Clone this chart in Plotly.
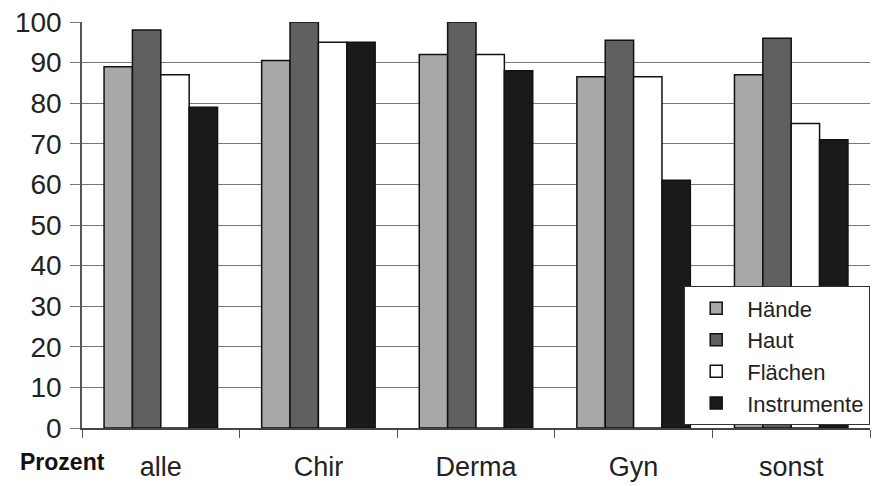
import plotly.graph_objects as go

categories = ["alle", "Chir", "Derma", "Gyn", "sonst"]
haende = [89, 90.5, 92, 86.5, 87]
haut = [98, 100, 100, 95.5, 96]
flaechen = [87, 95, 92, 86.5, 75]
instrumente = [79, 95, 88, 61, 71]
series_names = ["Hände", "Haut", "Flächen", "Instrumente"]
y_ticks = list(range(0, 101, 10))

colors = ["#a8a8a8", "#606060", "#ffffff", "#1a1a1a"]
fig = go.Figure()
for name, vals, col in zip(series_names, [haende, haut, flaechen, instrumente], colors):
    fig.add_trace(go.Bar(x=categories, y=vals, name=name, marker=dict(color=col, line=dict(color="#111111", width=1.5))))

fig.update_layout(
    width=875, height=486,
    margin=dict(l=82, r=5, t=22, b=58),
    paper_bgcolor="white", plot_bgcolor="white",
    barmode="group", bargap=0.28, bargroupgap=0,
    font=dict(family="Arial, Liberation Sans, sans-serif", color="#222222"),
    legend=dict(x=1.0, y=0.007, xanchor="right", yanchor="bottom",
                bgcolor="white", bordercolor="#333333", borderwidth=1.2,
                font=dict(size=22, color="#222222"), tracegroupgap=0,
                itemwidth=52),
    showlegend=True,
)
fig.update_yaxes(range=[0, 100], tickvals=y_ticks, showgrid=True, gridcolor="#777777", gridwidth=1.2,
                 ticks="outside", ticklen=10, tickcolor="#777777", tickwidth=1.2,
                 showline=True, linecolor="#555555", linewidth=1.5, automargin=False,
                 tickfont=dict(size=28, color="#222222"), zeroline=False, ticklabelstandoff=3)
fig.update_xaxes(showline=True, linecolor="#444444", linewidth=2, ticks="outside", tickson="boundaries",
                 ticklen=8, tickcolor="#555555", tickwidth=1.2, automargin=False,
                 tickfont=dict(size=27, color="#222222"), ticklabelstandoff=14)
fig.add_annotation(text="<b>Prozent</b>", showarrow=False,
                   x=(18 - 82) / (875 - 82 - 5), y=(486 - 58 - 462) / (486 - 22 - 58),
                   xref="paper", yref="paper", xanchor="left", yanchor="middle",
                   font=dict(size=23, color="#111111"))
fig.write_html("out.html", config={"displayModeBar": False},
               post_script="document.body.style.margin='0';document.body.style.overflow='hidden';")
